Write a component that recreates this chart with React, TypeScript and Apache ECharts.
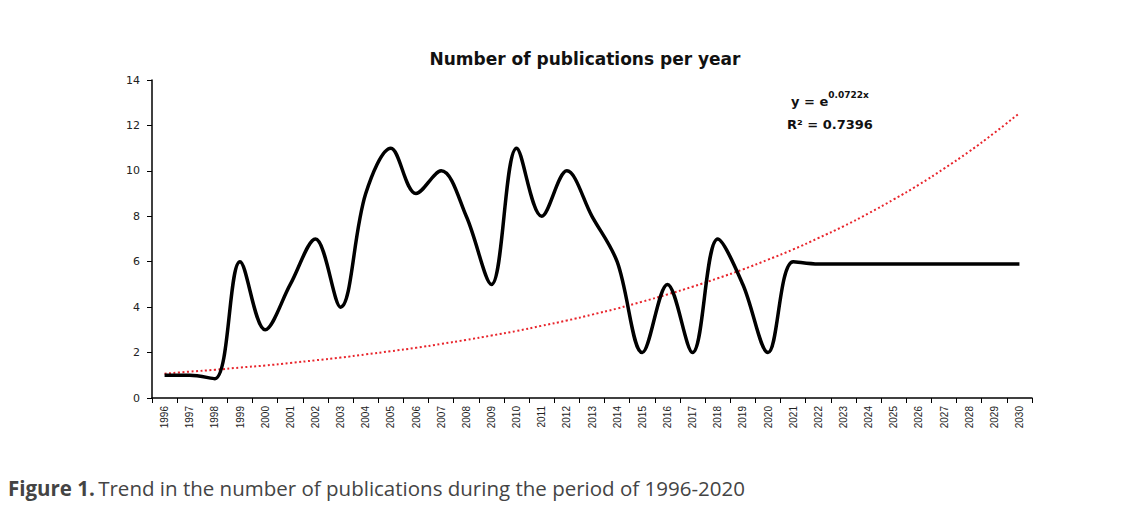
import React, { useEffect, useRef } from "react";
import * as echarts from "echarts";

const years: string[] = [
  "1996","1997","1998","1999","2000","2001","2002","2003","2004","2005",
  "2006","2007","2008","2009","2010","2011","2012","2013","2014","2015",
  "2016","2017","2018","2019","2020","2021","2022","2023","2024","2025",
  "2026","2027","2028","2029","2030",
];

const publications: number[] = [
  1, 1, 0.85, 6, 3, 5, 7, 4, 9, 11,
  9, 10, 8, 5, 11, 8, 10, 8, 6, 2,
  5, 2, 7, 5, 2, 6, 5.9, 5.9, 5.9, 5.9,
  5.9, 5.9, 5.9, 5.9, 5.9,
];

const trend: number[] = [
  1.07, 1.16, 1.24, 1.34, 1.43, 1.54, 1.66, 1.78, 1.92, 2.06,
  2.21, 2.38, 2.56, 2.75, 2.95, 3.18, 3.41, 3.67, 3.94, 4.24,
  4.56, 4.9, 5.27, 5.66, 6.09, 6.54, 7.04, 7.56, 8.13, 8.74,
  9.39, 10.1, 10.85, 11.67, 12.54,
];

const yTicks = { min: 0, max: 14, interval: 2 };

export default function App() {
  const ref = useRef<HTMLDivElement>(null);
  useEffect(() => {
    if (!ref.current) return;
    const chart = echarts.init(ref.current, null, { renderer: "svg" });
    chart.setOption({
      animation: false,
      backgroundColor: "#ffffff",
      title: {
        text: "Number of publications per year",
        left: 580,
        textAlign: "center",
        top: 45,
        textStyle: {
          fontFamily: "DejaVu Sans",
          fontWeight: "bold",
          fontSize: 17,
          color: "#111",
        },
      },
      grid: { left: 152, right: 108, top: 80, bottom: 118 },
      xAxis: {
        type: "category",
        data: years,
        boundaryGap: true,
        axisLine: { lineStyle: { color: "#000", width: 1.5 } },
        axisTick: { show: true, length: 5, lineStyle: { color: "#000" } },
        axisLabel: {
          rotate: 90,
          interval: 0,
          fontFamily: "Liberation Sans",
          fontSize: 10,
          color: "#222",
          margin: 8,
        },
        splitLine: { show: false },
      },
      yAxis: {
        type: "value",
        min: yTicks.min,
        max: yTicks.max,
        interval: yTicks.interval,
        axisLine: { show: true, lineStyle: { color: "#000", width: 1.5 } },
        axisTick: { show: true, length: 5, lineStyle: { color: "#000" } },
        axisLabel: {
          fontFamily: "DejaVu Sans",
          fontSize: 11,
          color: "#222",
          margin: 12,
        },
        splitLine: { show: false },
      },
      series: [
        {
          name: "Trend",
          type: "line",
          data: trend,
          smooth: true,
          symbol: "none",
          lineStyle: { color: "#e8242b", width: 2, type: [2, 2.5] },
          z: 2,
        },
        {
          name: "Publications",
          type: "line",
          data: publications,
          smooth: 0.35,
          symbol: "none",
          lineStyle: { color: "#000", width: 3.5 },
          z: 3,
        },
      ],
      graphic: [
        {
          type: "text",
          x: 830,
          y: 90,
          style: {
            text: "{b|y = e}{s|0.0722x}\n{b|R² = 0.7396}",
            fill: "#111",
            align: "center",
            rich: {
              b: {
                fontFamily: "DejaVu Sans",
                fontWeight: "bold",
                fontSize: 13,
                lineHeight: 23,
                fill: "#111",
              },
              s: {
                fontFamily: "DejaVu Sans",
                fontWeight: "bold",
                fontSize: 9,
                lineHeight: 23,
                verticalAlign: "top",
                padding: [0, 0, 6, 0],
                fill: "#111",
              },
            },
          },
        },
        {
          type: "text",
          left: 8,
          top: 477,
          style: {
            text: "{b|Figure 1.} {n|Trend in the number of publications during the period of 1996-2020}",
            rich: {
              b: {
                fontFamily: "Open Sans",
                fontWeight: "bold",
                fontSize: 20.5,
                fill: "#444",
              },
              n: {
                fontFamily: "Open Sans",
                fontSize: 20.5,
                fill: "#444",
              },
            },
          },
        },
      ],
    });
    return () => chart.dispose();
  }, []);
  return (
    <div
      ref={ref}
      style={{ position: "fixed", left: 0, top: 0, width: 1140, height: 516 }}
    />
  );
}
